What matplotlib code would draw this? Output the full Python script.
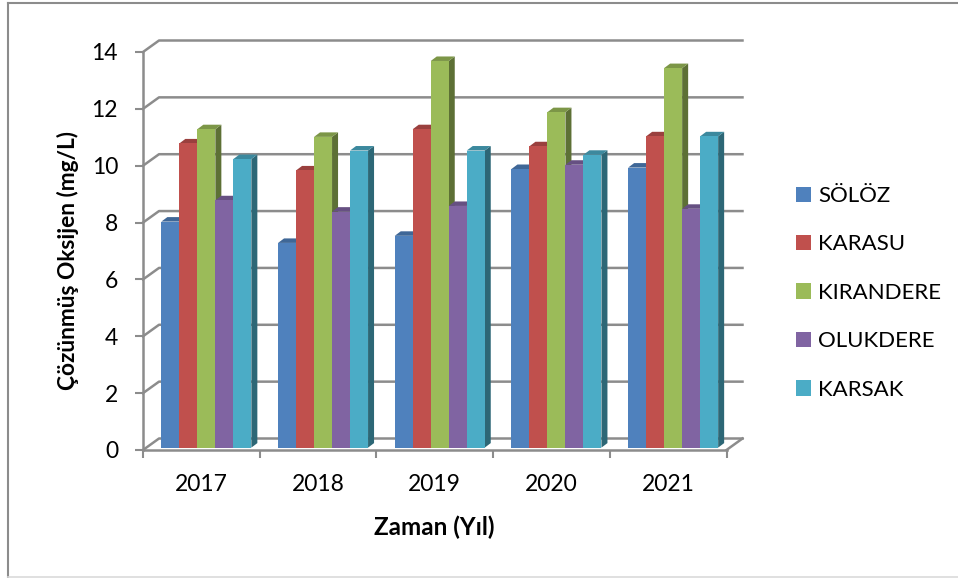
import numpy as np
import matplotlib
matplotlib.use("Agg")
import matplotlib.pyplot as plt
from matplotlib.lines import Line2D
from matplotlib.patches import Polygon, Patch

years = ['2017', '2018', '2019', '2020', '2021']
yticks = [0, 2, 4, 6, 8, 10, 12, 14]
names = ['SÖLÖZ', 'KARASU', 'KIRANDERE', 'OLUKDERE', 'KARSAK']
solo = [7.95, 7.2, 7.45, 9.8, 9.85]
karasu = [10.7, 9.75, 11.2, 10.6, 10.95]
kirandere = [11.2, 10.93, 13.6, 11.8, 13.35]
olukdere = [8.7, 8.3, 8.5, 9.95, 8.4]
karsak = [10.15, 10.45, 10.45, 10.3, 10.95]
series = [solo, karasu, kirandere, olukdere, karsak]

front = ['#4F81BD', '#C0504D', '#9BBB59', '#8064A2', '#4BACC6']
top = ['#3F6797', '#9A403E', '#7C9647', '#665082', '#3C899E']
side = ['#2F4D71', '#73302E', '#5D7035', '#4C3C61', '#2D6776']
gray = '#8C8C8C'

W, H = 958, 578
plt.rcParams['font.family'] = ['Lato', 'DejaVu Sans']
fig = plt.figure(figsize=(W / 100, H / 100), dpi=100)
ax = fig.add_axes([143 / W, 1 - 450 / H, 583.5 / W, 398 / H])
ax.set_xlim(0, 5)
ax.set_ylim(0, 14)
for s in ax.spines.values():
    s.set_visible(False)

# pixel sizes turned into data units
px = 5 / 583.5
py = 14 / 398
wall_x, wall_y = 16 * px, 11.5 * py

# back wall gridlines and the slanted bits going to the front axis
for v in yticks:
    ax.plot([0, wall_x, 5 + wall_x], [v, v + wall_y, v + wall_y], color=gray, lw=1.8, clip_on=False, zorder=1)
ax.plot([5, 5 + wall_x], [0, wall_y], color=gray, lw=1.8, clip_on=False, zorder=1)
ax.plot([0, 0], [0, 14], color=gray, lw=1.8, clip_on=False, zorder=1)
ax.plot([0, 5], [0, 0], color=gray, lw=1.8, clip_on=False, zorder=1)

# 3d looking bars
bar_w = 18 * px
dx, dy = 6 * px, 4.5 * py
x0, y0 = 5 * px, 2.4 * py
for i in range(len(years)):
    left = i + 0.5 + x0 - 2.5 * bar_w
    for j in range(len(names)):
        v = series[j][i]
        a = left + j * bar_w
        b = a + bar_w
        ax.add_patch(Polygon([(b, y0), (b + dx, y0 + dy), (b + dx, v + y0 + dy), (b, v + y0)],
                             facecolor=side[j], edgecolor='none', clip_on=False, zorder=2 + j))
        ax.add_patch(Polygon([(a, v + y0), (a + dx, v + y0 + dy), (b + dx, v + y0 + dy), (b, v + y0)],
                             facecolor=top[j], edgecolor='none', clip_on=False, zorder=2 + j))
        ax.bar(a, v, bottom=y0, width=bar_w, align='edge', color=front[j], clip_on=False, zorder=2.5 + j)

ax.set_yticks(yticks)
ax.set_xticks(range(6))
ax.set_xticklabels([])
ax.set_xticks(np.arange(5) + 0.5, years, minor=True)
ax.tick_params(axis='y', length=6, width=1.5, color=gray, labelsize=16.5, pad=12)
ax.tick_params(axis='x', which='major', length=6, width=1.5, color=gray)
ax.tick_params(axis='x', which='minor', length=0, labelsize=16.5, pad=17)

fig.text(68 / W, 1 - 260 / H, 'Çözünmüş Oksijen (mg/L)', rotation=90, ha='center', va='center',
         fontsize=16.3, fontweight='bold')
fig.text(434 / W, 1 - 527 / H, 'Zaman (Yıl)', ha='center', va='center', fontsize=17.5, fontweight='bold')

handles = [Patch(facecolor=c, edgecolor='none') for c in front]
fig.legend(handles, names, loc='upper left', bbox_to_anchor=(796 / W, 1 - 186 / H), frameon=False,
           fontsize=16, handlelength=0.68, handleheight=0.68, handletextpad=0.32,
           labelspacing=1.28, borderpad=0, borderaxespad=0)

# outer frame of the chart, only left and top are dark in the original
fig.add_artist(Line2D([8 / W, 8 / W], [0, 1 - 3 / H], color='#8C8C8C', lw=1.5))
fig.add_artist(Line2D([8 / W, 1], [1 - 3 / H, 1 - 3 / H], color='#8C8C8C', lw=1.5))
fig.add_artist(Line2D([8 / W, 1], [1 / H, 1 / H], color='#DADADA', lw=1.2))

fig.savefig('out.png', dpi=100)
